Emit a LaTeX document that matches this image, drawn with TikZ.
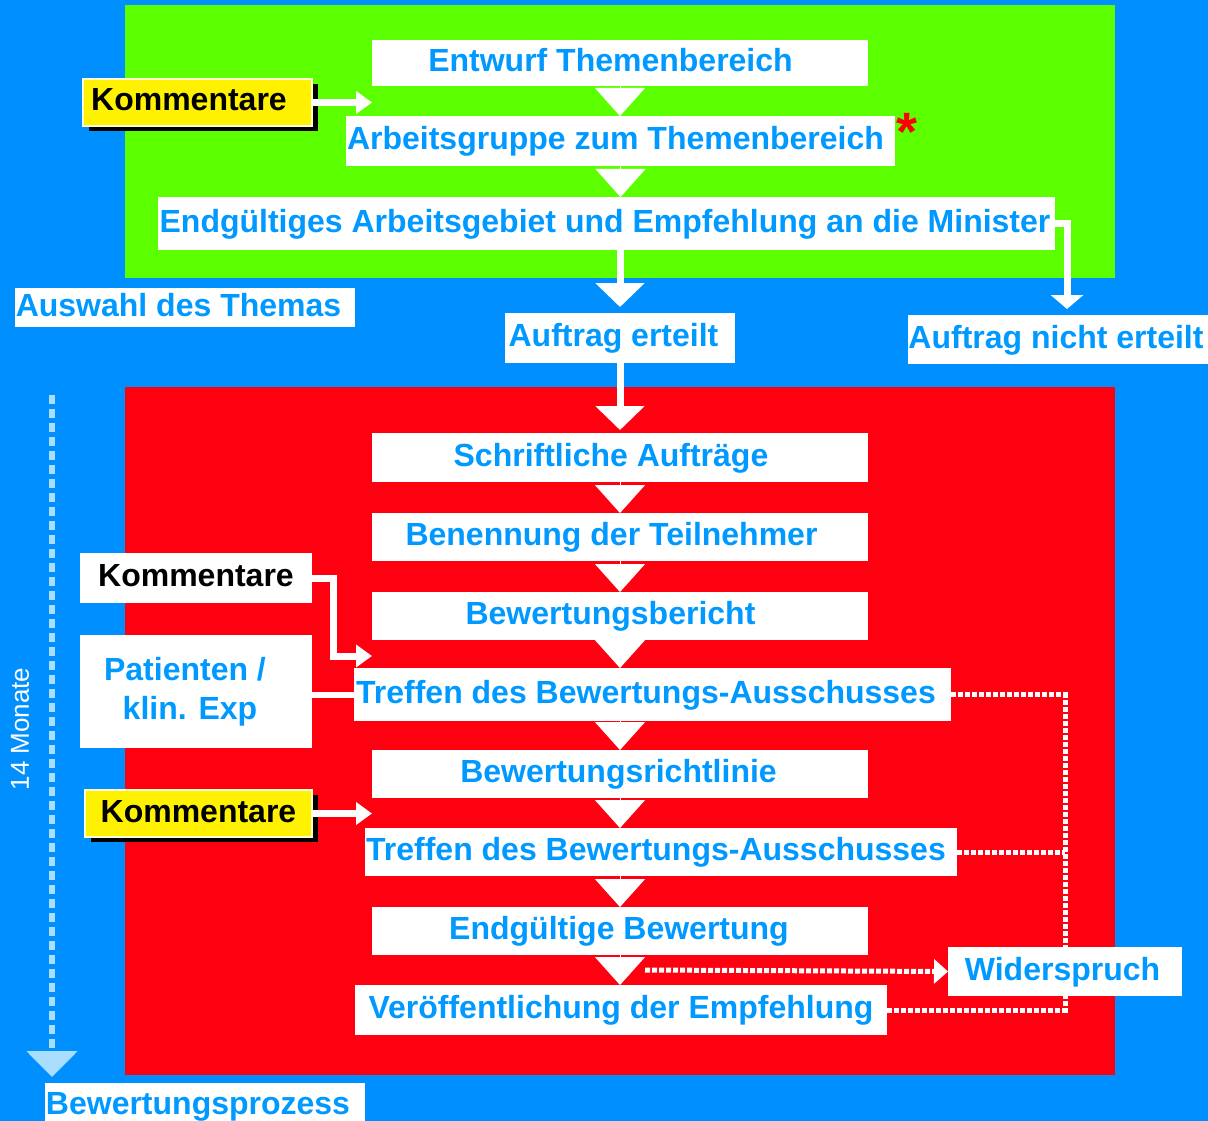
\documentclass[tikz,border=0pt]{standalone}
\usepackage{fontspec}
\setmainfont{Liberation Sans}
\usetikzlibrary{arrows.meta,shadows,calc}
\definecolor{bgblue}{RGB}{0,143,255}
\definecolor{bggreen}{RGB}{92,255,0}
\definecolor{bgred}{RGB}{255,0,16}
\definecolor{txtblue}{RGB}{0,153,255}
\definecolor{lightblue}{RGB}{170,222,255}
\definecolor{paleyel}{RGB}{255,255,210}
\newcommand\bigfont{\fontsize{32}{39}\selectfont\bfseries}
\newcommand\lsh[1]{\hspace*{-#1pt}}
\begin{document}
\begin{tikzpicture}[x=1pt,y=-1pt,
  sz/.style 2 args={minimum width=#1, minimum height=#2},
  box/.style={fill=white, inner sep=0pt, outer sep=0pt, text=txtblue, font=\bigfont, text height=23pt, text depth=6pt},
  ybox/.style={fill=yellow, draw=paleyel, line width=2.5pt, inner sep=0pt, outer sep=0pt, text=black, font=\bigfont, text height=23pt, text depth=6pt,
     drop shadow={shadow xshift=6pt, shadow yshift=-5pt, fill=black, opacity=1}},
  wbox/.style={fill=white, inner sep=0pt, outer sep=0pt, text=black, font=\bigfont, text height=23pt, text depth=6pt},
  flow/.style={draw=white, line width=1pt, -{Triangle[width=50pt,length=28pt]}},
  longflow/.style={draw=white, line width=7pt, -{Triangle[width=48pt,length=24pt]}},
  sidearrow/.style={draw=white, line width=7pt, -{Triangle[width=22pt,length=16pt]}},
  plainline/.style={draw=white, line width=6pt},
  dotl/.style={draw=white, line width=5pt, dash pattern=on 5pt off 2pt},
  mdash/.style={draw=lightblue, line width=6pt, dash pattern=on 9pt off 5pt, -{Triangle[width=50pt,length=26pt]}}
]
\useasboundingbox (0,0) rectangle (1208,1121);
\fill[bgblue] (0,0) rectangle (1208,1121);
\fill[bggreen] (125,5) rectangle (1115,278);
\fill[bgred] (125,387) rectangle (1115,1075);

% top section
\node[box, sz={496pt}{46pt}] (e1) at (620,63) {\lsh{19}Entwurf Themenbereich};
\node[box, sz={549pt}{50pt}] (e2) at (620.5,141) {\lsh{10}Arbeitsgruppe zum Themenbereich};
\node[box, sz={897pt}{53pt}] (e3) at (606.5,223.5) {\lsh{3}Endgültiges Arbeitsgebiet und Empfehlung an die Minister};
\node[text=red, font=\fontsize{54}{54}\selectfont\bfseries, inner sep=0pt] (ast) at (907,132) {*};
\node[ybox, sz={229pt}{47pt}] (k1) at (197.5,102.5) {\lsh{17}Kommentare};
\node[box, sz={340pt}{39pt}] (aus) at (185,307.5) {\lsh{13}Auswahl des Themas};
\node[box, sz={230pt}{50pt}] (ae) at (620,338) {\lsh{13}Auftrag erteilt};
\node[box, sz={300pt}{49pt}] (ane) at (1058,339.5) {\lsh{4}Auftrag nicht erteilt};

% main process
\node[box, sz={496pt}{49pt}] (s1) at (620,457.5) {\lsh{18}Schriftliche Aufträge};
\node[box, sz={496pt}{48pt}] (s2) at (620,537) {\lsh{17}Benennung der Teilnehmer};
\node[box, sz={496pt}{48pt}] (s3) at (620,616) {\lsh{19}Bewertungsbericht};
\node[box, sz={597pt}{53pt}] (s4) at (652.5,694.5) {\lsh{13}Treffen des Bewertungs-Ausschusses};
\node[box, sz={496pt}{48pt}] (s5) at (620,774) {\lsh{3}Bewertungsrichtlinie};
\node[box, sz={592pt}{48pt}] (s6) at (661,852) {\lsh{10}Treffen des Bewertungs-Ausschusses};
\node[box, sz={496pt}{48pt}] (s7) at (620,931) {\lsh{2}Endgültige Bewertung};
\node[box, sz={532pt}{50pt}] (s8) at (621,1010) {Veröffentlichung der Empfehlung};
\node[box, sz={234pt}{49pt}] (wid) at (1065,971.5) {\lsh{5}Widerspruch};

% side inputs
\node[wbox, sz={232pt}{50pt}] (k2) at (196,578) {Kommentare};
\node[fill=white, inner sep=0pt, sz={232pt}{113pt}, text=txtblue, font=\bigfont, align=center] (pat) at (196,691.5) {\lsh{22}Patienten /\\\lsh{12}klin. Exp};
\node[ybox, sz={227pt}{47pt}] (k3) at (198.5,813.5) {Kommentare};

% left time line
\coordinate (mtop) at (52,395);
\coordinate (mbot) at (52,1077);
\draw[mdash] (mtop) -- (mbot);
\node[rotate=90, text=white, font=\fontsize{26}{30}\selectfont, inner sep=0pt] (mon) at (20,729) {14 Monate};
\node[box, sz={320pt}{46pt}] (bp) at (205,1106) {\lsh{14}Bewertungsprozess};

% flow arrows
\draw[flow] (e1.south) -- (e1.south |- e2.north);
\draw[flow] (e2.south) -- (e2.south |- e3.north);
\draw[longflow, shorten >=6pt] (ae.north |- e3.south) -- (ae.north);
\draw[longflow, shorten >=3pt] (ae.south) -- (ae.south |- s1.north);
\draw[draw=white, line width=7pt, -{Triangle[width=32pt,length=14pt]}, shorten >=6pt] (e3.east) -| ([xshift=9pt]ane.north);
\draw[flow] (s1.south) -- (s1.south |- s2.north);
\draw[flow] (s2.south) -- (s2.south |- s3.north);
\draw[flow] (s3.south) -- (s3.south |- s4.north);
\draw[flow] (s5.north |- s4.south) -- (s5.north);
\draw[flow] (s5.south) -- (s5.south |- s6.north);
\draw[flow] (s7.north |- s6.south) -- (s7.north);
\draw[flow] (s7.south) -- (s7.south |- s8.north);

% side arrows
\draw[sidearrow] (k1.east) -- (k1.east -| e1.west);
\coordinate (k2end) at (372,656);
\draw[sidearrow] (k2.east) -- ++(21,0) |- (k2end);
\draw[plainline] (pat.east |- s4.west) -- (s4.west);
\draw[sidearrow] (k3.east) -- (k3.east -| s5.west);

% appeal (dotted)
\coordinate (j1) at (1065,694.5);
\coordinate (j2) at (1065,1010);
\coordinate (wst) at (645,970);
\draw[dotl] (s4.east) -- (j1) -- (j1 |- wid.north);
\draw[dotl] (s6.east) -- (s6.east -| j1);
\draw[dotl] (s8.east) -- (j2) -- (j2 |- wid.south);
\draw[dotl, -{Triangle[width=24pt,length=14pt]}] (wst) -- (wid.west);
\end{tikzpicture}
\end{document}
